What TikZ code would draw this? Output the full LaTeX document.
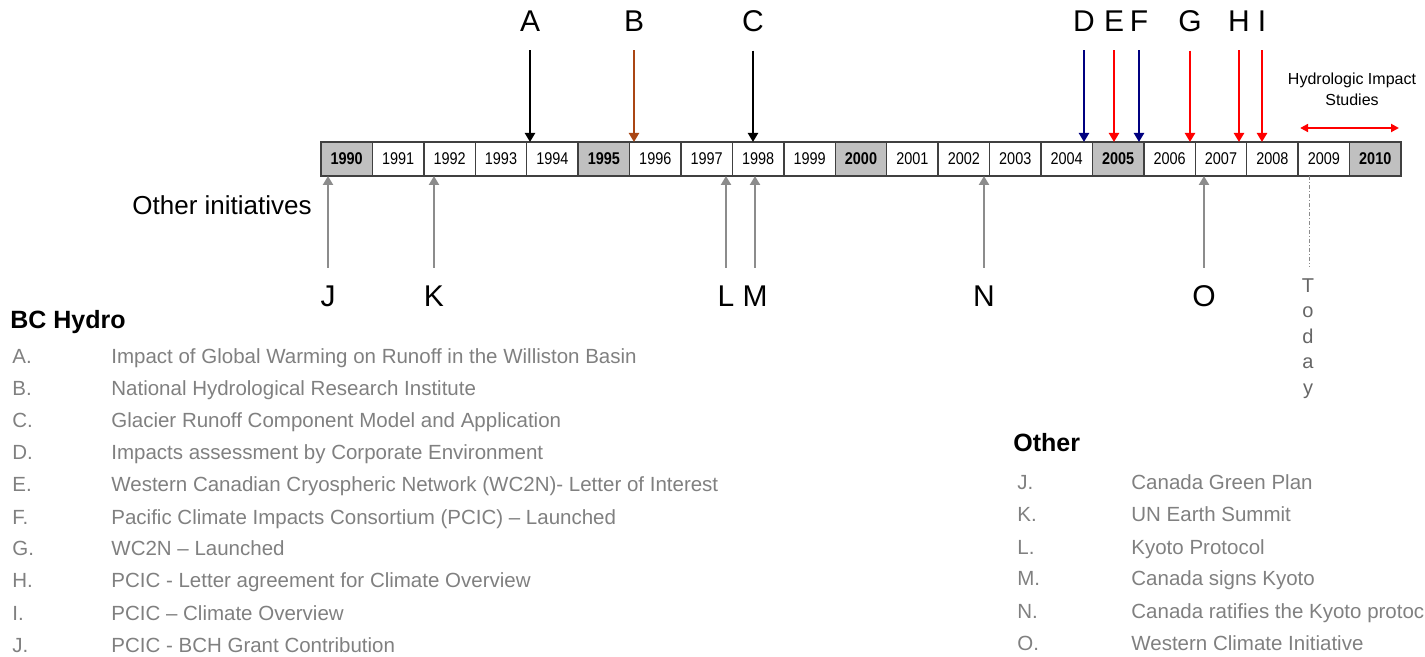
\documentclass[tikz,border=0pt]{standalone}
\usepackage{fontspec}
\setmainfont{Liberation Sans}
\newfontfamily\yearfont[FakeStretch=0.85]{Liberation Sans}
\usetikzlibrary{arrows.meta,positioning}
\definecolor{boxline}{RGB}{64,64,64}
\definecolor{boxfill}{RGB}{192,192,192}
\definecolor{itemgray}{RGB}{128,128,128}
\definecolor{arrowgray}{RGB}{140,140,140}
\definecolor{bcbrown}{RGB}{170,70,20}
\definecolor{bcnavy}{RGB}{0,0,128}
\definecolor{bcred}{RGB}{255,0,0}

\begin{document}
\begin{tikzpicture}[x=0.5pt, y=-0.5pt, yearbox/.style={rectangle,draw=boxline,line width=0.75pt,minimum width=25.714pt,minimum height=17pt,inner sep=0pt,outer sep=0pt,font=\yearfont\fontsize{8.5}{10}\selectfont}, keybox/.style={yearbox,fill=boxfill,font=\yearfont\bfseries\fontsize{8.5}{10}\selectfont}, letter/.style={inner sep=0pt,anchor=base,font=\fontsize{15}{18}\selectfont}, line/.style={-{Triangle[width=5pt,length=4.5pt]},line width=1.4pt,shorten <=9pt}, other/.style={line,draw=arrowgray}, heading/.style={inner sep=0pt,anchor=base west,font=\bfseries\fontsize{12.5}{15}\selectfont}, item/.style={inner sep=0pt,anchor=base west,text=itemgray,font=\fontsize{10.25}{12}\selectfont}]
\useasboundingbox (0,0) rectangle (1425,657);
\coordinate (y1989) at (321,159);
\foreach \yr [remember=\yr as \prev (initially 1989)] in {1990,...,2010} {
  \pgfmathtruncatemacro\md{mod(\yr,5)}
  \ifnum\md=0 \node[keybox,right=0pt of y\prev] (y\yr) {\yr};
  \else \node[yearbox,right=0pt of y\prev] (y\yr) {\yr}; \fi
}
\node[letter] (A) at (530,32) {A};
\node[letter] (B) at (634,32) {B};
\node[letter] (C) at (753,32) {C};
\node[letter] (D) at (1084,32) {D};
\node[letter] (E) at (1114,32) {E};
\node[letter] (F) at (1139,32) {F};
\node[letter] (G) at (1190,32) {G};
\node[letter] (H) at (1239,32) {H};
\node[letter] (I) at (1262,32) {I};
\draw[line] (A) -- (A |- y1994.north);
\draw[line,bcbrown] (B) -- (B |- y1995.north);
\draw[line] (C) -- (C |- y1998.north);
\draw[line,bcnavy] (D) -- (D |- y2004.north);
\draw[line,bcred] (E) -- (E |- y2005.north);
\draw[line,bcnavy] (F) -- (F |- y2005.north);
\draw[line,bcred] (G) -- (G |- y2006.north);
\draw[line,bcred] (H) -- (H |- y2007.north);
\draw[line,bcred] (I) -- (I |- y2008.north);
\node[align=center,inner sep=0pt,font=\fontsize{8}{10.5}\selectfont] (hyd) at (1352,89) {Hydrologic Impact\\Studies};
\draw[{Triangle[width=4pt,length=4pt]}-{Triangle[width=4pt,length=4pt]},bcred,line width=1pt,shorten <=1pt,shorten >=1pt] ([yshift=7pt]y2009.north west) -- ([yshift=7pt]y2010.north east);
\node[inner sep=0pt,anchor=base west,font=\fontsize{13}{15}\selectfont] (oi) at (132,215) {Other initiatives};
\node[letter] (J) at (328,307) {J};
\node[letter] (K) at (434,307) {K};
\node[letter] (L) at (726,307) {L};
\node[letter] (M) at (755,307) {M};
\node[letter] (N) at (984,307) {N};
\node[letter] (O) at (1204,307) {O};
\draw[other] (J) -- (J |- y1990.south);
\draw[other] (K) -- (K |- y1992.south);
\draw[other] (L) -- (L |- y1997.south);
\draw[other] (M) -- (M |- y1998.south);
\draw[other] (N) -- (N |- y2002.south);
\draw[other] (O) -- (O |- y2007.south);
\coordinate (now) at ([xshift=5.5pt]y2009.south west);
\node[align=center,inner sep=0pt,anchor=north,text=black!60,font=\fontsize{10}{12.75}\selectfont] (today) at (1308,278) {T\\o\\d\\a\\y};
\draw[black!45,line width=0.6pt,dash pattern=on 2pt off 1pt on 0.5pt off 1pt,shorten >=5.5pt] (now) -- (now |- today.north);
\node[heading] (bch) at (10,329) {BC Hydro};
\foreach \lbl/\txt [count=\i from 0] in {A/Impact of Global Warming on Runoff in the Williston Basin, B/National Hydrological Research Institute, C/Glacier Runoff Component Model and Application, D/Impacts assessment by Corporate Environment, E/Western Canadian Cryospheric Network (WC2N)- Letter of Interest, F/Pacific Climate Impacts Consortium (PCIC) – Launched, G/WC2N – Launched, H/PCIC - Letter agreement for Climate Overview, I/PCIC – Climate Overview, J/PCIC - BCH Grant Contribution} {
  \node[item] (bk\i) at (12,{364+32*\i}) {\lbl.};
  \node[item] (bt\i) at (111,{364+32*\i}) {\txt};
}
\node[heading] (oth) at (1013,452) {Other};
\foreach \lbl/\txt [count=\i from 0] in {J/Canada Green Plan, K/UN Earth Summit, L/Kyoto Protocol, M/Canada signs Kyoto, N/Canada ratifies the Kyoto protoc, O/Western Climate Initiative} {
  \node[item] (ok\i) at (1017,{490+32*\i}) {\lbl.};
  \node[item] (ot\i) at (1131,{490+32*\i}) {\txt};
}
\end{tikzpicture}
\end{document}
